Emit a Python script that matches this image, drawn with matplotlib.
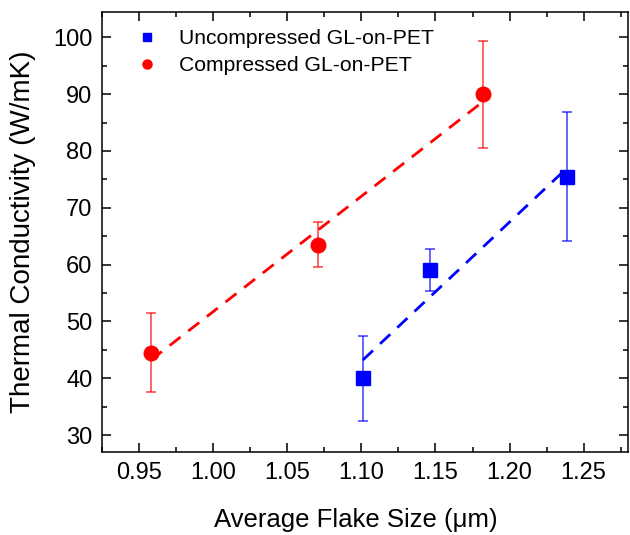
import numpy as np
import matplotlib
matplotlib.use("Agg")
import matplotlib.pyplot as plt
from matplotlib.ticker import MultipleLocator, FormatStrFormatter

plt.rcParams["font.family"] = ["Liberation Sans", "DejaVu Sans"]

# Uncompressed GL-on-PET
unc_x = [1.101, 1.146, 1.239]
unc_y = [40.0, 59.0, 75.5]
unc_err = [7.5, 3.7, 11.4]

# Compressed GL-on-PET
comp_x = [0.958, 1.071, 1.182]
comp_y = [44.5, 63.5, 90.0]
comp_err = [7.0, 4.0, 9.4]

fig = plt.figure(figsize=(6.3, 5.35), dpi=100)
ax = fig.add_axes([0.162, 0.155, 0.835, 0.823])

for xs, ys, es, c, m, ms, lab in [
    (unc_x, unc_y, unc_err, "#0000ff", "s", 9.5, "Uncompressed GL-on-PET"),
    (comp_x, comp_y, comp_err, "#ff0000", "o", 10.5, "Compressed GL-on-PET"),
]:
    ax.errorbar(xs, ys, yerr=es, fmt="none", ecolor=c, alpha=0.7,
                elinewidth=1.2, capsize=3.5, capthick=1.2, zorder=2)
    ax.plot(xs, ys, m, color=c, ms=ms, ls="none", label=lab, zorder=3)
    # linear fit through the points
    k, b = np.polyfit(xs, ys, 1)
    fx = np.array([min(xs), max(xs)])
    ax.plot(fx, k * fx + b, "--", color=c, lw=2.0, dashes=(5, 3.5), zorder=1)

ax.set_xlim(0.925, 1.28)
ax.set_ylim(27, 104.5)
ax.xaxis.set_major_locator(MultipleLocator(0.05))
ax.xaxis.set_minor_locator(MultipleLocator(0.025))
ax.yaxis.set_major_locator(MultipleLocator(10))
ax.yaxis.set_minor_locator(MultipleLocator(5))
ax.xaxis.set_major_formatter(FormatStrFormatter("%.2f"))
ax.tick_params(which="both", direction="in", top=True, right=True,
               labelsize=17, width=1.1, pad=7)
ax.tick_params(which="major", length=6.5)
ax.tick_params(which="minor", length=3.5)
for s in ax.spines.values():
    s.set_linewidth(1.1)

ax.set_xlabel("Average Flake Size (μm)", fontsize=18.5)
ax.xaxis.set_label_coords(0.483, -0.126)
ax.set_ylabel("Thermal Conductivity (W/mK)", fontsize=20, labelpad=12)

ax.legend(loc="upper left", bbox_to_anchor=(0.018, 1.003), frameon=False,
          fontsize=15.2, handletextpad=0.7, markerscale=0.62,
          borderaxespad=0.5, labelspacing=0.38, handlelength=1.6)

fig.savefig("out.png", dpi=100)
